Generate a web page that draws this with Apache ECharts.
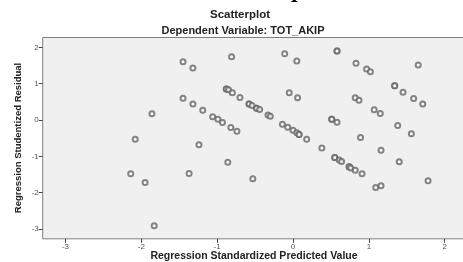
<!DOCTYPE html>
<html><head><meta charset="utf-8">
<script src="https://cdn.jsdelivr.net/npm/echarts@6/dist/echarts.min.js"></script>
<style>html,body{margin:0;padding:0;background:#fff}#c{width:463px;height:262px}</style>
</head><body><div id="c"></div>
<script>
var predicted = [-1.86,-2.08,-2.14,-1.95,-1.83,-1.45,-1.32,-0.81,-0.11,0.05,-0.88,-0.88,-0.85,-0.80,-0.70,-1.45,-1.32,-1.19,-1.06,-0.99,-0.93,-0.82,-0.74,-0.58,-0.58,-0.54,-0.48,-0.48,-0.44,-0.33,-0.30,-0.05,0.06,-0.14,-0.07,0.00,0.05,0.08,0.08,0.18,-1.24,-0.86,-1.37,-0.53,0.58,0.58,0.83,0.97,1.02,1.65,1.34,1.34,1.45,1.59,1.71,0.82,0.87,1.07,1.15,0.51,0.51,0.58,1.38,0.89,1.56,0.38,1.16,0.55,0.55,0.61,0.64,0.74,0.74,0.76,0.82,0.91,1.40,1.09,1.16,1.78];
var residual = [0.17,-0.53,-1.48,-1.72,-2.91,1.60,1.43,1.74,1.82,1.62,0.85,0.85,0.83,0.75,0.62,0.60,0.44,0.27,0.09,0.02,-0.07,-0.21,-0.31,0.44,0.44,0.40,0.32,0.32,0.29,0.14,0.10,0.75,0.61,-0.12,-0.20,-0.28,-0.35,-0.40,-0.40,-0.53,-0.68,-1.16,-1.47,-1.62,1.90,1.90,1.56,1.40,1.33,1.51,0.94,0.94,0.76,0.59,0.44,0.61,0.54,0.28,0.18,0.02,0.02,-0.06,-0.15,-0.48,-0.38,-0.77,-0.83,-1.03,-1.03,-1.10,-1.14,-1.29,-1.29,-1.32,-1.38,-1.48,-1.15,-1.86,-1.81,-1.67];
var xTicks = [-3,-2,-1,0,1,2];
var yTicks = [-3,-2,-1,0,1,2];
var titleText = "Scatterplot";
var subtitleText = "Dependent Variable: TOT_AKIP";
var xName = "Regression Standardized Predicted Value";
var yName = "Regression Studentized Residual";

var pts = predicted.map(function(x,i){return [x, residual[i]];});
var chart = echarts.init(document.getElementById('c'), null, {renderer:'canvas'});
var FF = 'Liberation Sans, Arial, sans-serif';
chart.setOption({
  animation:false,
  backgroundColor:'#fff',
  title:[
    {text:titleText, left:240, top:9, padding:0, textAlign:'center', textStyle:{fontFamily:FF,fontSize:11.5,fontWeight:'bold',color:'#222'}},
    {text:subtitleText, left:243, top:25.5, padding:0, textAlign:'center', textStyle:{fontFamily:FF,fontSize:11,fontWeight:'bold',color:'#222'}}
  ],
  graphic:[
    {type:'text', left:291, top:-16, style:{text:'p', font:'bold 18px "DejaVu Serif", serif', fill:'#000'}},
    {type:'text', x:254, y:256.5, style:{text:xName, font:'bold 10.5px "Liberation Sans", Arial, sans-serif', fill:'#222', align:'center', verticalAlign:'middle'}},
    {type:'text', x:18, y:138, rotation:Math.PI/2, style:{text:yName, font:'bold 9.5px "Liberation Sans", Arial, sans-serif', fill:'#222', align:'center', verticalAlign:'middle'}}
  ],
  grid:{left:42.7, top:37.5, right:-4.5, bottom:23.2, outerBoundsMode:'none', containLabel:false, show:true, backgroundColor:'#f0f0f0', borderColor:'#808080', borderWidth:1},
  xAxis:{type:'value', min:-3.3, max:2.3,
    axisLine:{show:false, onZero:false}, splitLine:{show:false},
    axisTick:{show:true, length:4, customValues:xTicks, lineStyle:{color:'#444'}},
    axisLabel:{customValues:xTicks, fontFamily:FF, fontSize:8, color:'#555', margin:4}},
  yAxis:{type:'value', min:-3.27, max:2.27,
    axisLine:{show:false, onZero:false}, splitLine:{show:false},
    axisTick:{show:true, length:4, customValues:yTicks, lineStyle:{color:'#444'}},
    axisLabel:{customValues:yTicks, fontFamily:FF, fontSize:8, color:'#555', margin:4}},
  series:[{type:'scatter', data:pts, symbol:'emptyCircle', symbolSize:5,
    itemStyle:{color:'#666', borderColor:'#666', borderWidth:1}}]
});
</script></body></html>
